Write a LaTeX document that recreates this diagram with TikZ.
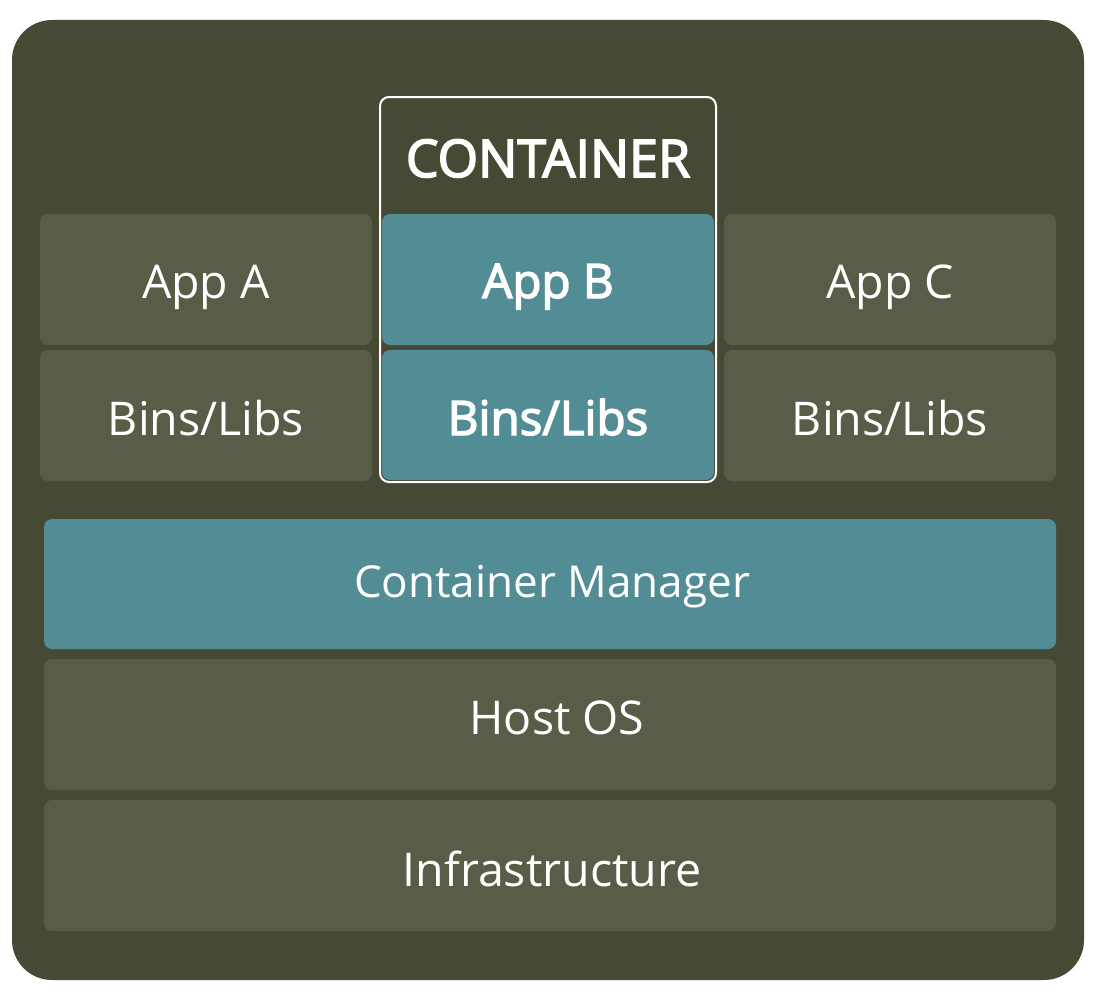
\documentclass[tikz,border=0pt]{standalone}
\usepackage{fontspec}
\setmainfont{Open Sans}
% lighter bold, close to a semibold weight
\newfontfamily\semib[FakeBold=3]{Open Sans}
\definecolor{bgolive}{HTML}{464A35}
\definecolor{layer}{HTML}{585D47}
\definecolor{teal}{HTML}{528D95}
\begin{document}
\begin{tikzpicture}[x=1pt,y=-1pt,
  layerbox/.style={fill=layer,rounded corners=8pt},
  tealbox/.style={fill=teal,rounded corners=8pt},
  lbl/.style={text=white,font=\fontsize{46.5}{52}\selectfont,inner sep=0pt,anchor=base},
  blbl/.style={text=white,font=\fontsize{47.5}{53}\selectfont\semib,inner sep=0pt,anchor=base}]
\useasboundingbox (0,0) rectangle (1098,998);
% outer frame
\fill[bgolive,rounded corners=40pt] (12,20) rectangle (1084,980);
% left stack
\fill[layerbox] (40,214) rectangle (372,345);
\fill[layerbox] (40,350) rectangle (372,481);
% right stack
\fill[layerbox] (724,214) rectangle (1056,345);
\fill[layerbox] (724,350) rectangle (1056,481);
% container stack
\draw[white,line width=2pt,rounded corners=9pt] (380,97) rectangle (716,482);
\fill[tealbox] (382,214) rectangle (714,345);
\fill[tealbox] (382,350) rectangle (714,480);
% shared layers
\fill[tealbox] (44,519) rectangle (1056,649);
\fill[layerbox] (44,659) rectangle (1056,790);
\fill[layerbox] (44,800) rectangle (1056,931);
% labels (placed on their baselines)
\node[lbl] (appa) at (206,298) {App A};
\node[lbl] (binsa) at (206,435) {Bins/Libs};
\node[blbl,font=\fontsize{52}{58}\selectfont\semib] (ctitle) at (548,177) {CONTAINER};
\node[blbl] (appb) at (548,298) {App B};
\node[blbl] (binsb) at (548,435) {Bins/Libs};
\node[lbl] (appc) at (890,298) {App C};
\node[lbl] (binsc) at (890,435) {Bins/Libs};
\node[lbl,font=\fontsize{44}{50}\selectfont] (mgr) at (552,597) {Container Manager};
\node[lbl] (host) at (557,734) {Host OS};
\node[lbl] (infra) at (552,886) {Infrastructure};
\end{tikzpicture}
\end{document}
